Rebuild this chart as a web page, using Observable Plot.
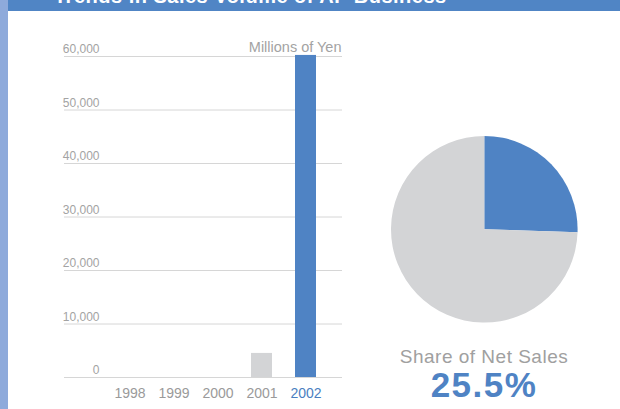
<!DOCTYPE html>
<html>
<head>
<meta charset="utf-8">
<script src="https://cdn.jsdelivr.net/npm/d3@7"></script>
<script src="https://cdn.jsdelivr.net/npm/@observablehq/plot@0.6"></script>
<style>
  html, body { margin: 0; padding: 0; background: #fff; }
  #wrap { position: relative; width: 620px; height: 409px; overflow: hidden; font-family: "Liberation Sans", Arial, sans-serif; }
  #strip { position: absolute; left: 0; top: 0; width: 8px; height: 409px; background: #8eaadb; }
  #banner { position: absolute; left: 8px; top: 0; width: 612px; height: 10.5px; background: #5085c5; overflow: hidden; }
  #banner span { position: absolute; left: 46px; top: -14px; font-size: 20px; line-height: 20px; font-weight: bold; color: #fff; white-space: nowrap; letter-spacing: 0.5px; }
  #bars { position: absolute; left: 0; top: 0; }
  #pie { position: absolute; left: 360px; top: 0; }
  .cap { position: absolute; left: 360px; width: 248px; text-align: center; white-space: nowrap; }
  #shareLabel { top: 347px; font-size: 19px; line-height: 19px; color: #a0a0a0; letter-spacing: 0.5px; }
  #shareValue { top: 367px; font-size: 35px; line-height: 35px; font-weight: bold; color: #4f83c4; letter-spacing: 1.5px; }
</style>
</head>
<body>
<div id="wrap">
  <div id="strip"></div>
  <div id="banner"><span id="title"></span></div>
  <div id="bars"></div>
  <div id="pie"></div>
  <div class="cap" id="shareLabel"></div>
  <div class="cap" id="shareValue"></div>
</div>
<script>
const titleText = "Trends in Sales Volume of AP Business";
const years = ["1998", "1999", "2000", "2001", "2002"];
const sales = [0, 0, 0, 4500, 60200];
const yTicks = [0, 10000, 20000, 30000, 40000, 50000, 60000];
const unitLabel = "Millions of Yen";
const shareCategories = ["AP Business", "Other"];
const shareValues = [25.5, 74.5];
const shareLabel = "Share of Net Sales";

const BLUE = "#4f83c4";
const GRAY = "#d3d4d6";
const TEXT = "#a3a3a3";
const FONT = "'Liberation Sans', Arial, sans-serif";

document.getElementById("title").textContent = titleText;
document.getElementById("shareLabel").textContent = shareLabel;
document.getElementById("shareValue").textContent = shareValues[0].toFixed(1) + "%";

const barData = years.map((y, i) => ({year: y, value: sales[i], color: i === years.length - 1 ? BLUE : GRAY}));
const fmt = d3.format(",");

const bars = Plot.plot({
  width: 360,
  height: 409,
  marginLeft: 118,
  marginRight: 44,
  marginTop: 56,
  marginBottom: 32,
  style: {fontFamily: FONT, background: "transparent"},
  x: {domain: years, paddingInner: 0.528, paddingOuter: 0, axis: null},
  y: {domain: [0, 60000], axis: null},
  marks: [
    Plot.ruleY(yTicks, {y: d => d, stroke: "#d6d6d6", strokeWidth: 1, insetLeft: -54, insetRight: -26}),
    Plot.barY(barData, {x: "year", y: "value", fill: "color"}),
    Plot.text(yTicks, {y: d => d, text: d => fmt(d), frameAnchor: "left", textAnchor: "end", lineAnchor: "middle", dx: -19, dy: -7, fill: TEXT, fontSize: 12}),
    Plot.text(barData, {x: "year", text: "year", frameAnchor: "bottom", lineAnchor: "middle", dy: 16, fill: d => d.color === BLUE ? "#4a7fc1" : "#9a9a9a", fontSize: 14}),
    Plot.text([unitLabel], {text: d => d, frameAnchor: "top-right", textAnchor: "end", lineAnchor: "middle", dx: 25, dy: -9, fill: TEXT, fontSize: 14.5})
  ]
});
document.getElementById("bars").appendChild(bars);

const pieData = shareCategories.map((c, i) => ({cat: c, value: shareValues[i], color: i === 0 ? BLUE : GRAY}));
const pie = Plot.plot({
  width: 260,
  height: 409,
  margin: 0,
  style: {background: "transparent"},
  marks: [
    (index, scales, values, dims) => {
      const cx = 124.3, cy = 229.3, r = 93.3;
      const arcs = d3.pie().sort(null).value(d => d.value)(pieData);
      const arc = d3.arc().innerRadius(0).outerRadius(r);
      const g = d3.create("svg:g").attr("transform", `translate(${cx},${cy})`);
      g.selectAll("path").data(arcs).join("path")
        .attr("d", arc)
        .attr("fill", d => d.data.color);
      return g.node();
    }
  ]
});
document.getElementById("pie").appendChild(pie);
</script>
</body>
</html>
